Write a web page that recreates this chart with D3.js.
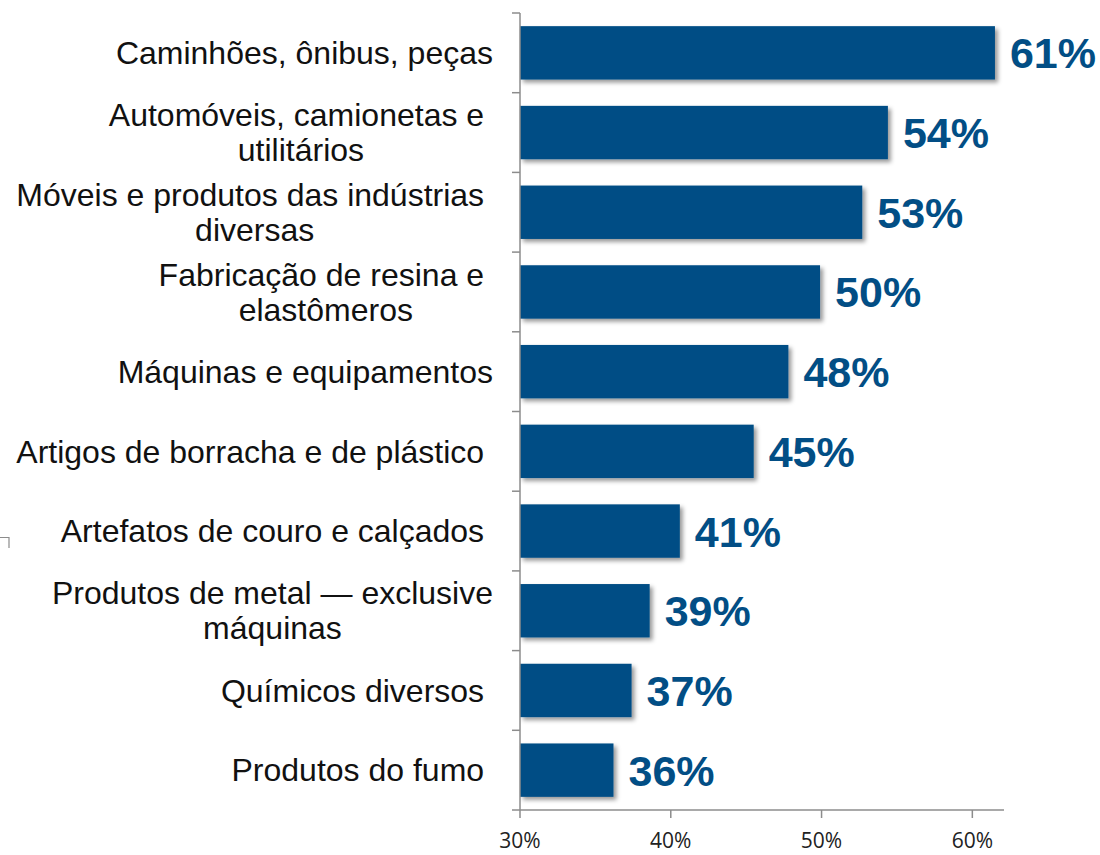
<!DOCTYPE html>
<html>
<head>
<meta charset="utf-8">
<script src="https://cdn.jsdelivr.net/npm/d3@7"></script>
<style>
  body { margin: 0; background: #fff; }
  svg { font-family: "Liberation Sans", Arial, sans-serif; }
</style>
</head>
<body>
<div id="chart"></div>
<script>
// categories (top to bottom), trailing spaces kept as in the source slide
var categories = [
    ["Caminhões, ônibus, peças"],
    ["Automóveis, camionetas e ", "utilitários"],
    ["Móveis e produtos das indústrias ", "diversas"],
    ["Fabricação de resina e ", "elastômeros"],
    ["Máquinas e equipamentos"],
    ["Artigos de borracha e de plástico "],
    ["Artefatos de couro e calçados "],
    ["Produtos de metal — exclusive", "máquinas"],
    ["Químicos diversos "],
    ["Produtos do fumo "]
];
var values = [61.5, 54.4, 52.7, 49.9, 47.8, 45.5, 40.6, 38.6, 37.4, 36.2];
var valueLabels = ["61%", "54%", "53%", "50%", "48%", "45%", "41%", "39%", "37%", "36%"];
var tickValues = [30, 40, 50, 60];

var width = 1100, height = 855;
var barColor = "#024e85";
var axisColor = "#8c8c8c";

var svg = d3.select("#chart").append("svg")
    .attr("width", width)
    .attr("height", height);

var defs = svg.append("defs");
var shadow = defs.append("filter").attr("id", "shadow")
    .attr("x", "-10%").attr("y", "-20%").attr("width", "130%").attr("height", "150%");
shadow.append("feDropShadow")
    .attr("dx", 3).attr("dy", 3).attr("stdDeviation", 2)
    .attr("flood-color", "#000").attr("flood-opacity", 0.4);

var x = d3.scaleLinear().domain([30, 62.1]).range([520, 1004]);
var y = d3.scaleBand().domain(d3.range(values.length)).range([13, 810]).paddingInner(0.33).paddingOuter(0.165);

// bars
svg.append("g").selectAll("rect").data(values).enter()
    .append("rect")
        .attr("x", x(30))
        .attr("y", function(d, i) { return y(i); })
        .attr("width", function(d) { return x(d) - x(30); })
        .attr("height", y.bandwidth())
        .attr("fill", barColor)
        .attr("filter", "url(#shadow)");

// value labels
svg.append("g").selectAll("text").data(values).enter()
    .append("text")
        .attr("x", function(d) { return x(d) + 15; })
        .attr("y", function(d, i) { return y(i) + y.bandwidth() / 2; })
        .attr("dy", "0.36em")
        .attr("font-size", 43)
        .attr("font-weight", "bold")
        .attr("fill", barColor)
        .text(function(d, i) { return valueLabels[i]; });

// category labels: block centered, right edge at axis
var labelG = svg.append("g");
var lineH = 35;
categories.forEach(function(lines, i) {
    var cy = y(i) + y.bandwidth() / 2;
    var t = labelG.append("text")
        .attr("font-size", 32)
        .attr("fill", "#111")
        .attr("text-anchor", "middle")
        .style("white-space", "pre");
    var spans = lines.map(function(l, k) {
        return t.append("tspan")
            .attr("y", cy + (k - (lines.length - 1) / 2) * lineH)
            .attr("dy", "0.35em")
            .text(l);
    });
    var maxW = d3.max(spans, function(s) { return s.node().getComputedTextLength(); });
    var cx = 493 - maxW / 2;
    spans.forEach(function(s) { s.attr("x", cx); });
});

// axes
var axisG = svg.append("g").attr("stroke", axisColor).attr("stroke-width", 1.5).attr("fill", "none");
axisG.append("line").attr("x1", 520).attr("x2", 520).attr("y1", 13).attr("y2", 810);
axisG.append("line").attr("x1", 512).attr("x2", x(62.1)).attr("y1", 810).attr("y2", 810);
var bounds = d3.range(values.length).map(function(i) { return y(i) - y.step() * y.paddingInner() / 2; });
axisG.selectAll("line.yt").data(bounds).enter().append("line")
    .attr("class", "yt")
    .attr("x1", 512).attr("x2", 520)
    .attr("y1", function(d) { return d; }).attr("y2", function(d) { return d; });
axisG.selectAll("line.xt").data(tickValues).enter().append("line")
    .attr("class", "xt")
    .attr("x1", function(d) { return x(d); }).attr("x2", function(d) { return x(d); })
    .attr("y1", 810).attr("y2", 818);

svg.append("g").selectAll("text").data(tickValues).enter()
    .append("text")
        .attr("x", function(d) { return x(d); })
        .attr("y", 848)
        .attr("text-anchor", "middle")
        .attr("font-size", 21)
        .attr("font-family", "'Open Sans', sans-serif")
        .attr("fill", "#222")
        .text(function(d) { return d + "%"; });

// stray corner mark left of the labels
svg.append("path")
    .attr("d", "M0,537.5 H9 V548")
    .attr("stroke", axisColor).attr("stroke-width", 1.2).attr("fill", "none");
</script>
</body>
</html>
